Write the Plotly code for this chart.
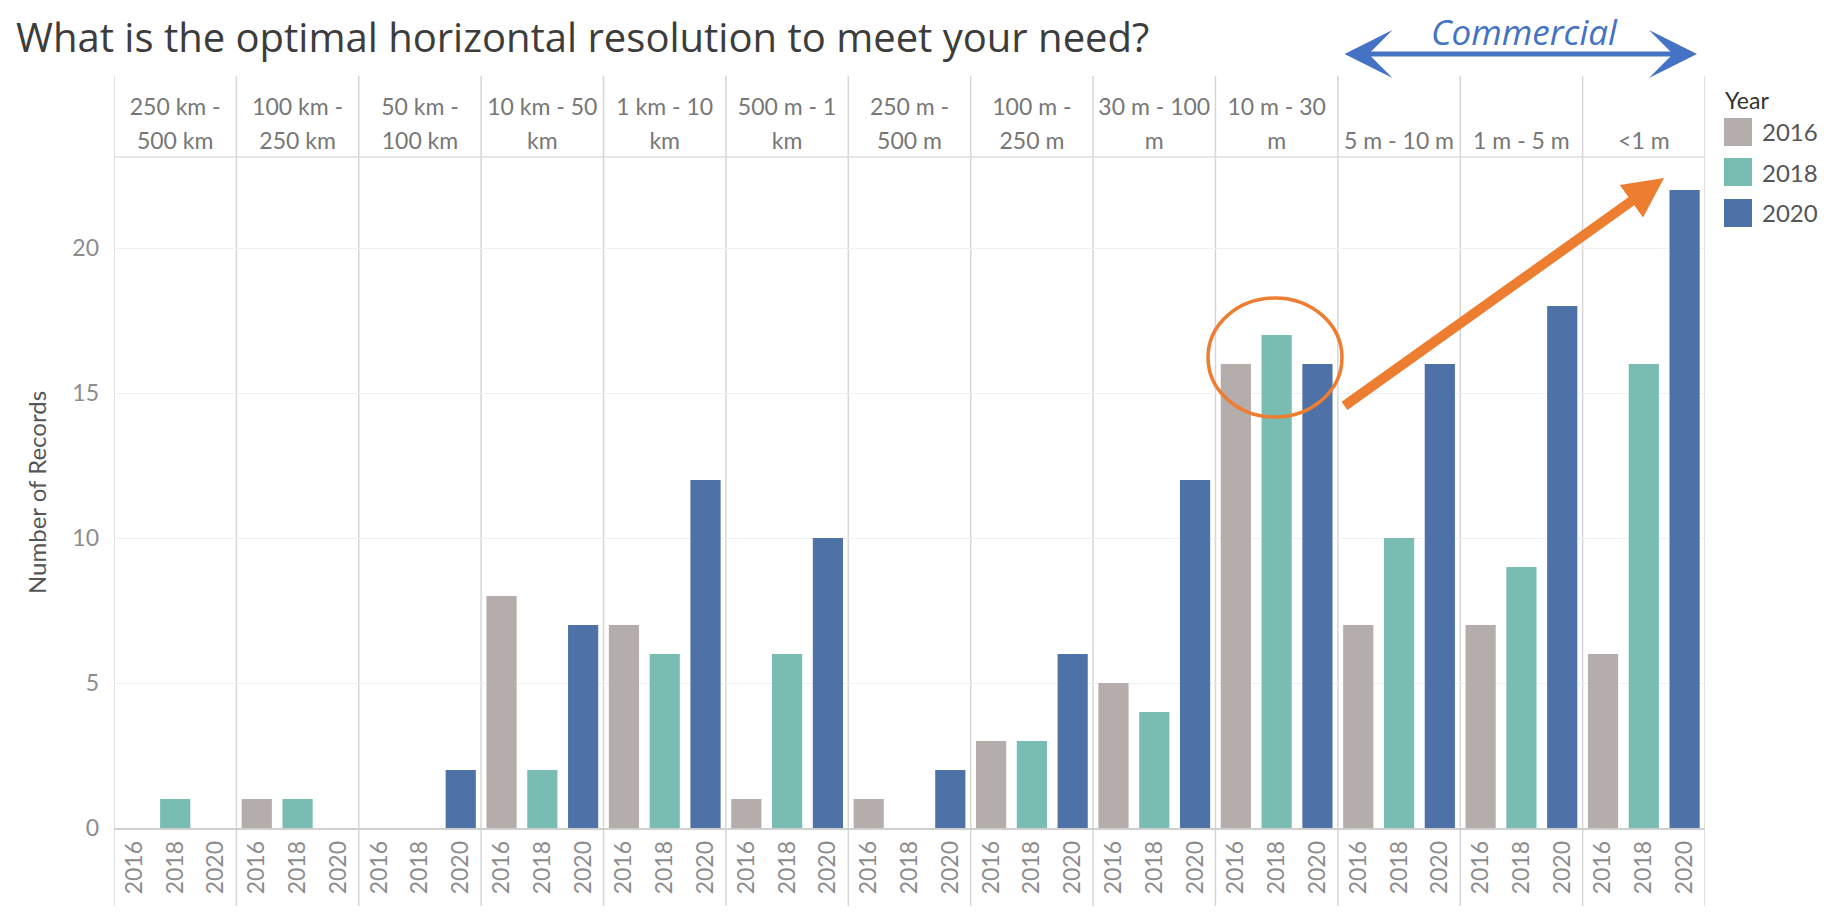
import plotly.graph_objects as go

# ---------------- data ----------------
GROUP_LINE1 = [
    "250 km -", "100 km -", "50 km -", "10 km - 50", "1 km - 10", "500 m - 1",
    "250 m -", "100 m -", "30 m - 100", "10 m - 30", "", "", "",
]
GROUP_LINE2 = [
    "500 km", "250 km", "100 km", "km", "km", "km",
    "500 m", "250 m", "m", "m", "5 m - 10 m", "1 m - 5 m", "&lt;1 m",
]
YEARS = ["2016", "2018", "2020"]
V2016 = [0, 1, 0, 8, 7, 1, 1, 3, 5, 16, 7, 7, 6]
V2018 = [1, 1, 0, 2, 6, 6, 0, 3, 4, 17, 10, 9, 16]
V2020 = [0, 0, 2, 7, 12, 10, 2, 6, 12, 16, 16, 18, 22]
YEAR_COLORS = ["#b5adab", "#79bcb2", "#4e72a7"]
Y_TICKS = [0, 5, 10, 15, 20]

TITLE = "What is the optimal horizontal resolution to meet your need?"
Y_TITLE = "Number of Records"
NOTE = "Commercial"
LEGEND_TITLE = "Year"

SERIES = [V2016, V2018, V2020]

# ---------------- layout geometry ----------------
# the page body has an 8px margin, so the figure is made 8px smaller and
# all reference pixel positions are shifted by that offset
OFF = 8
W, H = 1836 - OFF, 915 - OFF
PLOT_L, PLOT_R, PLOT_T, PLOT_B = 114, 1705, 157, 828  # reference pixels
L, R, T = PLOT_L - OFF, W - (PLOT_R - OFF), PLOT_T - OFF
B = H - (PLOT_B - OFF)
PW, PH = PLOT_R - PLOT_L, PLOT_B - PLOT_T
FONT = "Lato"
FONT2 = "Open Sans"


def px(xp):
    return (xp - PLOT_L) / PW


def py(yp):
    return (PLOT_B - yp) / PH


n_groups = len(GROUP_LINE1)
cats = [f"g{i}-{y}" for i in range(n_groups) for y in YEARS]
mid_cats = [f"g{i}-{YEARS[1]}" for i in range(n_groups)]

fig = go.Figure()
for year, vals, col in zip(YEARS, SERIES, YEAR_COLORS):
    fig.add_trace(go.Bar(
        x=[f"g{i}-{year}" for i in range(n_groups)],
        y=vals,
        name=year,
        marker=dict(color=col, line=dict(width=0)),
        showlegend=False,
        hovertemplate=year + ": %{y}<extra></extra>",
    ))

# invisible traces so the two header axes are drawn
for ax in ("x2", "x3"):
    fig.add_trace(go.Bar(x=[cats[1]], y=[None], xaxis=ax, showlegend=False,
                         hoverinfo="skip"))

shapes = []
for k in range(n_groups + 1):
    shapes.append(dict(type="line", xref="x", yref="paper",
                       x0=3 * k - 0.5, x1=3 * k - 0.5,
                       y0=py(906), y1=py(76),
                       line=dict(color="#d6d6d6", width=1.5), layer="below"))
shapes.append(dict(type="line", xref="paper", yref="paper", x0=0, x1=1, y0=1, y1=1,
                   line=dict(color="#dedede", width=1.5)))
shapes.append(dict(type="circle", xref="paper", yref="paper",
                   x0=px(1208), x1=px(1342), y0=py(417), y1=py(298),
                   line=dict(color="#ed7d31", width=3.5)))

leg_y = [132, 172, 213]
for yc, col in zip(leg_y, YEAR_COLORS):
    shapes.append(dict(type="rect", xref="paper", yref="paper",
                       x0=px(1724), x1=px(1752), y0=py(yc + 14), y1=py(yc - 14),
                       fillcolor=col, line=dict(width=0)))

annotations = [
    dict(text=TITLE, xref="paper", yref="paper", x=px(14), y=py(36),
         xanchor="left", yanchor="middle", showarrow=False,
         font=dict(family=FONT2, size=40, color="#3c3c3c")),
    dict(text="<i>" + NOTE + "</i>", xref="paper", yref="paper", x=px(1524), y=py(31),
         xanchor="center", yanchor="middle", showarrow=False,
         font=dict(family=FONT2, size=35, color="#4472c4")),
    dict(text="", xref="paper", yref="paper", x=px(1697), y=py(54),
         ax=1343 - 1697, ay=0, showarrow=True, arrowside="end+start",
         arrowhead=3, startarrowhead=3, arrowwidth=5, arrowsize=1.6, startarrowsize=1.6,
         arrowcolor="#4472c4"),
    dict(text="", xref="paper", yref="paper", x=px(1664), y=py(178),
         ax=1343 - 1664, ay=407 - 178, showarrow=True,
         arrowhead=2, arrowwidth=10, arrowsize=0.8, arrowcolor="#ed7d31"),
    dict(text=LEGEND_TITLE, xref="paper", yref="paper", x=px(1723), y=py(100),
         xanchor="left", yanchor="middle", showarrow=False,
         font=dict(family=FONT, size=23, color="#333333")),
]
for yc, year in zip(leg_y, YEARS):
    annotations.append(dict(text=year, xref="paper", yref="paper", x=px(1760), y=py(yc),
                            xanchor="left", yanchor="middle", showarrow=False,
                            font=dict(family=FONT, size=24, color="#555555")))

header_axis = dict(type="category", overlaying="x", side="top", matches="x",
                   categoryorder="array", categoryarray=cats,
                   tickvals=mid_cats, tickangle=0,
                   tickfont=dict(family=FONT, size=23, color="#777777"),
                   ticks="", showgrid=False, showline=False)

fig.update_layout(
    width=W, height=H,
    margin=dict(l=L, r=R, t=T, b=B, autoexpand=False),
    paper_bgcolor="white", plot_bgcolor="white",
    barmode="overlay", bargap=0.26,
    font=dict(family=FONT),
    shapes=shapes, annotations=annotations,
    xaxis=dict(type="category", categoryorder="array", categoryarray=cats,
               range=[-0.5, len(cats) - 0.5],
               tickvals=cats, ticktext=[c.split("-")[1] for c in cats],
               tickangle=-90, tickfont=dict(family=FONT, size=23, color="#8c8c8c"),
               ticks="", showgrid=False, showline=True, linecolor="#cfcfcf", linewidth=1.5,
               ticklabelstandoff=2, fixedrange=True),
    xaxis2=dict(header_axis, ticktext=GROUP_LINE2, ticklabelstandoff=2),
    xaxis3=dict(header_axis, ticktext=GROUP_LINE1, ticklabelstandoff=36),
    yaxis=dict(range=[0, PH / 29.0], tickvals=Y_TICKS,
               tickfont=dict(family=FONT, size=23, color="#8c8c8c"),
               showgrid=True, gridcolor="#f0f0f0", gridwidth=1.2, zeroline=False,
               ticks="", showline=False, ticklabelstandoff=14,
               title=dict(text=Y_TITLE, standoff=18,
                          font=dict(family=FONT, size=24, color="#555555"))),
)

fig.write_html("out.html")
